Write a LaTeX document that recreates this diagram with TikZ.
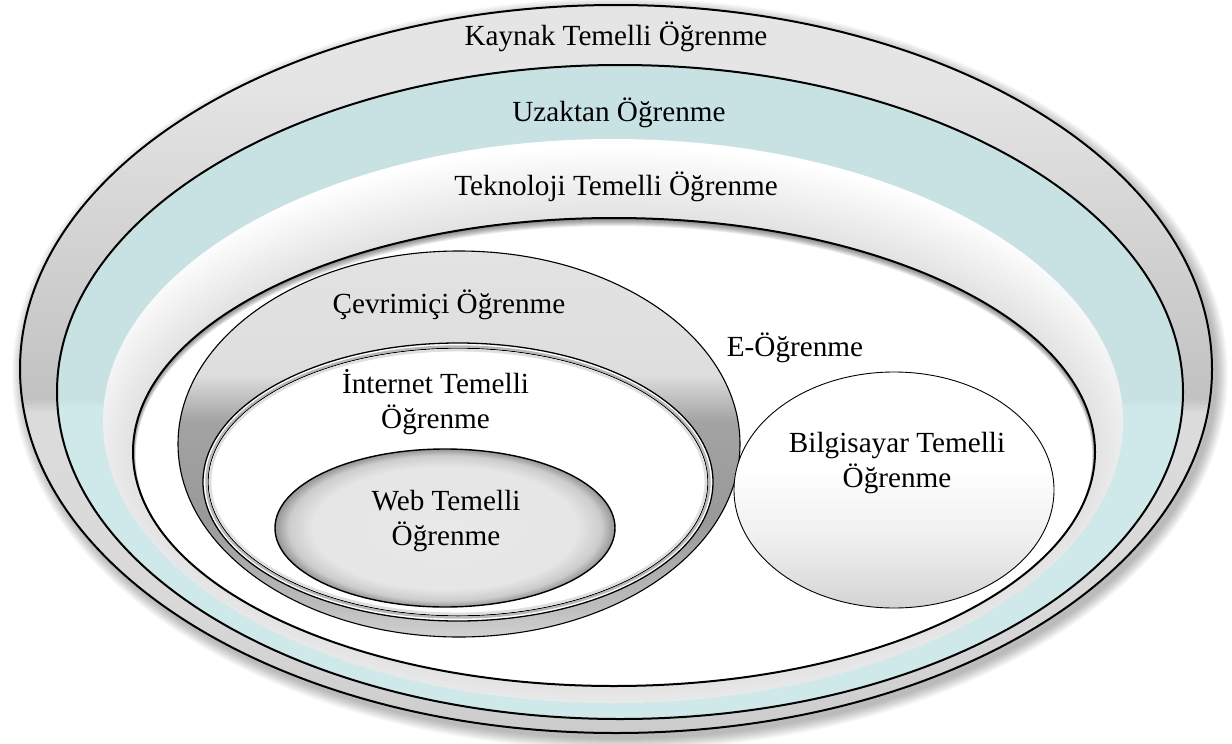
\documentclass[tikz,border=0pt]{standalone}
\usepackage{fontspec}
\setmainfont{Liberation Serif}
\usetikzlibrary{shapes.geometric}

\definecolor{tealband}{RGB}{206,230,231}

\pgfdeclareverticalshading{kaynakshade}{100bp}{rgb(0bp)=(.80,.80,.80); rgb(25bp)=(.80,.80,.80); rgb(34bp)=(.85,.85,.85); rgb(47bp)=(.86,.86,.86); rgb(48bp)=(.76,.76,.76); rgb(58bp)=(.82,.82,.82); rgb(70bp)=(.90,.90,.90); rgb(100bp)=(.90,.90,.90)}
\pgfdeclareverticalshading{tealshade}{100bp}{rgb(0bp)=(.81,.91,.914); rgb(48.9bp)=(.81,.91,.914); rgb(49.4bp)=(.785,.885,.89); rgb(100bp)=(.785,.885,.89)}
\pgfdeclareverticalshading{cevshade}{100bp}{rgb(0bp)=(.82,.82,.82); rgb(25bp)=(.82,.82,.82); rgb(29bp)=(.74,.74,.74); rgb(40bp)=(.60,.60,.60); rgb(53bp)=(.64,.64,.64); rgb(59bp)=(.87,.87,.87); rgb(75bp)=(.89,.89,.89); rgb(100bp)=(.89,.89,.89)}
\pgfdeclareradialshading{webshade}{\pgfpointorigin}{rgb(0bp)=(.91,.91,.91); rgb(19.5bp)=(.90,.90,.90); rgb(23bp)=(.80,.80,.80); rgb(25bp)=(.58,.58,.58); rgb(50bp)=(.58,.58,.58)}
\pgfdeclareverticalshading{bilshade}{100bp}{rgb(0bp)=(.83,.83,.83); rgb(25bp)=(.83,.83,.83); rgb(40bp)=(.94,.94,.94); rgb(55bp)=(1,1,1); rgb(100bp)=(1,1,1)}

\newcommand{\twoline}[2]{\vtop{\halign{\hfil##\hfil\cr#1\cr#2\cr}}}

\begin{document}
\begin{tikzpicture}[x=1pt,y=-1pt,
  lbl/.style={font=\fontsize{29.2}{35}\selectfont, inner sep=0pt, anchor=base, text=black},
  oval/.style={ellipse, inner sep=0pt, outer sep=0pt},
]
\useasboundingbox (0,0) rectangle (1232,744);
\fill[white] (0,0) rectangle (1232,744);

% soft drop shadow of the whole figure
\foreach \k in {1,...,12}
  \fill[black, opacity=0.025] (620,374) ellipse [x radius={596+\k}, y radius={364+\k}];

% Kaynak Temelli Ogrenme
\node[oval, minimum width=1192pt, minimum height=728pt, shade, shading=kaynakshade, draw=black, line width=2pt] (kaynak) at (616,369) {};
% Uzaktan Ogrenme
\node[oval, minimum width=1126pt, minimum height=654pt, shade, shading=tealshade, draw=black, line width=2pt] (uzaktan) at (620,392) {};
% Teknoloji Temelli Ogrenme (no border)
\node[oval, minimum width=1020pt, minimum height=564pt, fill=white] (teknoloji) at (613,421) {};
% glow around E-Ogrenme inside Teknoloji
\begin{scope}
  \clip (613,421) ellipse [x radius=510, y radius=282];
  \foreach \k in {1,...,14}
    \fill[black, opacity=0.009] (614,452) ellipse [x radius={481+5*\k}, y radius={234+5*\k}];
\end{scope}
% E-Ogrenme
\node[oval, minimum width=962pt, minimum height=468pt, fill=white] (eog) at (614,452) {};
\begin{scope}
  \clip (614,452) ellipse [x radius=481, y radius=234];
  \foreach \k in {1,...,8}
    \fill[black, opacity=0.07, even odd rule] (614,452) ellipse [x radius=481, y radius=234]
      (614,{452+0.5*\k}) ellipse [x radius={481-0.35*\k}, y radius={234-0.5*\k}];
\end{scope}
\draw[black, line width=2pt] (eog.center) ellipse [x radius=481, y radius=234];

% Cevrimici Ogrenme
\node[oval, minimum width=562pt, minimum height=386pt, shade, shading=cevshade, draw=black, line width=1.1pt] (cevrim) at (459,444) {};
% Internet Temelli Ogrenme
\node[oval, minimum width=510pt, minimum height=278pt, fill=white, draw=black, line width=1.3pt] (internet) at (458,482) {};
\draw[gray!55, line width=2.2pt] (internet.center) ellipse [x radius=251.6, y radius=135.6];
\draw[black, line width=0.9pt] (internet.center) ellipse [x radius=249.8, y radius=133.8];
\draw[gray!25, line width=2.5pt] (internet.center) ellipse [x radius=247.8, y radius=131.8];
% Web Temelli Ogrenme
\node[oval, minimum width=340pt, minimum height=158pt, shade, shading=webshade, draw=black, line width=1.4pt] (web) at (445,528) {};
% Bilgisayar Temelli Ogrenme
\node[oval, minimum width=320pt, minimum height=236pt, shade, shading=bilshade, draw=black, line width=0.9pt] (bilg) at (894,490) {};

% labels
\node[lbl] (tK) at (616,45) {Kaynak Temelli Öğrenme};
\node[lbl] (tU) at (619,121) {Uzaktan Öğrenme};
\node[lbl] (tT) at (616,195) {Teknoloji Temelli Öğrenme};
\node[lbl] (tE) at (795,356) {E-Öğrenme};
\node[lbl] (tC) at (449,313) {Çevrimiçi Öğrenme};
\node[lbl] (tI) at (435.5,393) {\twoline{İnternet Temelli}{Öğrenme}};
\node[lbl] (tW) at (446,510) {\twoline{Web Temelli}{Öğrenme}};
\node[lbl] (tB) at (897,452) {\twoline{Bilgisayar Temelli}{Öğrenme}};
\end{tikzpicture}
\end{document}
